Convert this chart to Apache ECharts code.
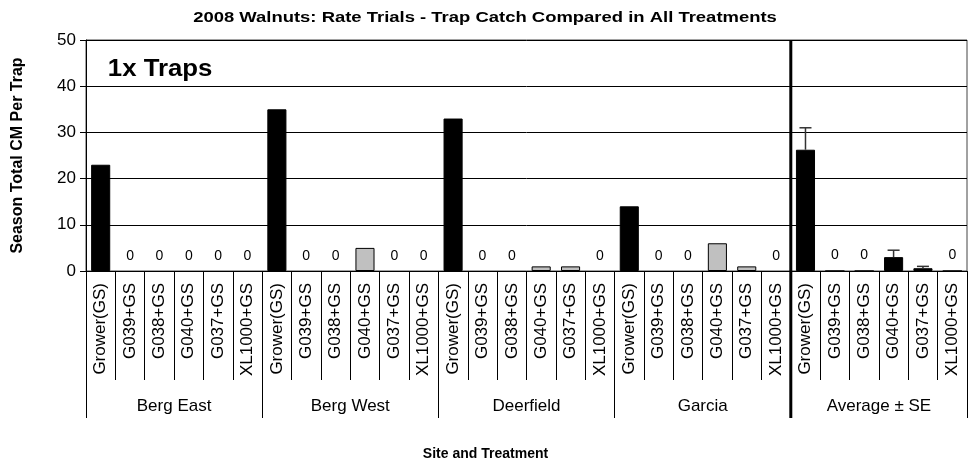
<!DOCTYPE html>
<html>
<head>
<meta charset="utf-8">
<script src="https://cdn.jsdelivr.net/npm/echarts@6/dist/echarts.min.js"></script>
<style>
  html, body { margin: 0; padding: 0; background: #fff; }
  #chart { width: 971px; height: 462px; }
</style>
</head>
<body>
<div id="chart"></div>
<script>
// sites and treatments
const sites = ['Berg East', 'Berg West', 'Deerfield', 'Garcia', 'Average ± SE'];
const treatments = ['Grower(GS)', 'G039+GS', 'G038+GS', 'G040+GS', 'G037+GS', 'XL1000+GS'];

// season total per trap, one array per site (same order as treatments)
const bergEast = [23, 0, 0, 0, 0, 0];
const bergWest = [35, 0, 0, 5, 0, 0];
const deerfield = [33, 0, 0, 1, 1, 0];
const garcia = [14, 0, 0, 6, 1, 0];
const average = [26.25, 0, 0, 3, 0.6, 0];
const averageSE = [4.75, 0, 0, 1.5, 0.4, 0];

const siteValues = [bergEast, bergWest, deerfield, garcia, average];

const yTicks = [0, 10, 20, 30, 40, 50];

const FONT = '"Liberation Sans", Arial, sans-serif';

// flatten into one category axis
const categories = [];
const barData = [];
siteValues.forEach((vals, s) => {
  const isAvg = s === siteValues.length - 1;
  vals.forEach((v, t) => {
    categories.push(treatments[t]);
    const black = t === 0 || isAvg;
    barData.push({
      value: v,
      itemStyle: {
        color: black ? '#000' : '#c0c0c0',
        borderColor: '#000',
        borderWidth: v === 0 && !isAvg ? 0 : 1
      }
    });
  });
});

// error bars for the average group
const avgStart = (siteValues.length - 1) * treatments.length;
const errData = average.map((v, i) => [avgStart + i, v, averageSE[i]]).filter(d => d[2] > 0);

const chart = echarts.init(document.getElementById('chart'));

const option = {
  animation: false,
  backgroundColor: '#fff',
  title: {
    text: 'Site and Treatment',
    left: 'center',
    top: 442,
    textStyle: { fontFamily: FONT, fontSize: 14, fontWeight: 'bold', color: '#000' }
  },
  grid: {
    left: 86,
    right: 4,
    top: 40,
    bottom: 191,
    show: true,
    borderColor: '#444',
    borderWidth: 1
  },
  xAxis: [
    {
      type: 'category',
      position: 'bottom',
      data: categories,
      axisLine: { onZero: false, lineStyle: { color: '#000', width: 1 } },
      axisTick: { show: true, interval: 0, length: 109, lineStyle: { color: '#000', width: 1 } },
      axisLabel: {
        interval: 0,
        rotate: 90,
        margin: 12,
        fontFamily: FONT,
        fontSize: 17,
        color: '#000'
      }
    },
    {
      type: 'category',
      position: 'bottom',
      data: sites,
      axisLine: { show: false, onZero: false },
      axisTick: { show: true, interval: 0, length: 147, lineStyle: { color: '#000', width: 1 } },
      axisLabel: {
        interval: 0,
        margin: 127,
        fontFamily: FONT,
        fontSize: 17,
        color: '#000'
      }
    }
  ],
  yAxis: {
    type: 'value',
    min: yTicks[0],
    max: yTicks[yTicks.length - 1],
    interval: 10,
    name: 'Season Total CM Per Trap',
    nameLocation: 'middle',
    nameGap: 60,
    nameTextStyle: { fontFamily: FONT, fontSize: 16, fontWeight: 'bold', color: '#000' },
    axisLine: { show: true, lineStyle: { color: '#000' } },
    axisTick: { show: true, length: 6, lineStyle: { color: '#000' } },
    axisLabel: { fontFamily: FONT, fontSize: 17, color: '#000', margin: 10 },
    splitLine: { lineStyle: { color: '#000', width: 1 } }
  },
  series: [
    {
      type: 'bar',
      xAxisIndex: 0,
      data: barData,
      barWidth: '65%',
      label: {
        show: true,
        position: 'top',
        distance: 8,
        fontFamily: FONT,
        fontSize: 14,
        color: '#000',
        formatter: p => (p.value === 0 ? '0' : '')
      }
    },
    {
      type: 'custom',
      xAxisIndex: 0,
      data: errData,
      z: 5,
      renderItem: (params, api) => {
        const base = api.coord([api.value(0), api.value(1)]);
        const top = api.coord([api.value(0), api.value(1) + api.value(2)]);
        const cap = 6;
        return {
          type: 'group',
          children: [
            { type: 'line', shape: { x1: base[0], y1: base[1], x2: top[0], y2: top[1] }, style: { stroke: '#333', lineWidth: 1.5 } },
            { type: 'line', shape: { x1: top[0] - cap, y1: top[1], x2: top[0] + cap, y2: top[1] }, style: { stroke: '#333', lineWidth: 1.5 } }
          ]
        };
      }
    }
  ]
};

chart.setOption(option);

// thick separator between the sites and the average, placed from the axis
const xa = chart.convertToPixel({ xAxisIndex: 0 }, avgStart - 1);
const xb = chart.convertToPixel({ xAxisIndex: 0 }, avgStart);
const sepX = (xa + xb) / 2;
const gridTop = chart.convertToPixel({ yAxisIndex: 0 }, yTicks[yTicks.length - 1]);
const gridBottom = chart.convertToPixel({ yAxisIndex: 0 }, yTicks[0]);

chart.setOption({
  graphic: [
    {
      type: 'text',
      x: 485,
      y: 18,
      scaleX: 1.23,
      style: {
        text: '2008 Walnuts: Rate Trials - Trap Catch Compared in All Treatments',
        fontFamily: FONT,
        fontSize: 15,
        fontWeight: 'bold',
        fill: '#000',
        align: 'center',
        verticalAlign: 'middle'
      }
    },
    {
      type: 'line',
      shape: { x1: sepX, y1: gridTop, x2: sepX, y2: gridBottom + 147 },
      style: { stroke: '#000', lineWidth: 3 },
      z: 10
    },
    {
      type: 'text',
      x: 100,
      y: 55,
      scaleX: 1.12,
      z: 10,
      style: {
        text: '1x Traps',
        fontFamily: FONT,
        fontSize: 23,
        fontWeight: 'bold',
        fill: '#000',
        backgroundColor: '#fff',
        padding: [3, 10, 4, 7]
      }
    }
  ]
});
</script>
</body>
</html>
